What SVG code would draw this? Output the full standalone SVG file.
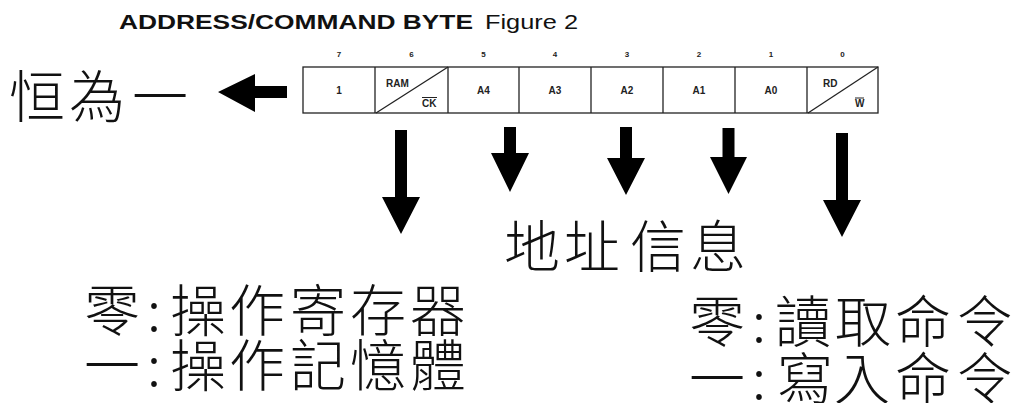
<svg xmlns="http://www.w3.org/2000/svg" width="1019" height="403" viewBox="0 0 1019 403">
<style>
.ttl{font-family:"Liberation Sans",Arial,sans-serif;font-size:21px;fill:#111}
.bit{font-family:"Liberation Sans",Arial,sans-serif;font-size:8px;font-weight:bold;fill:#222;text-anchor:middle}
.cell{font-family:"Liberation Sans",Arial,sans-serif;font-size:10px;font-weight:bold;fill:#222}
.mid{text-anchor:middle}
.box{fill:none;stroke:#222;stroke-width:1.3}
.hw{font-family:"Noto Sans CJK TC","Noto Sans CJK SC",sans-serif;font-size:56px;font-weight:300;fill:#111}
.arrow{fill:#000}
</style>
<rect width="1019" height="403" fill="#fff"/>
<g id="title">
<text class="ttl" x="119" y="29" font-weight="bold" textLength="354" lengthAdjust="spacingAndGlyphs">ADDRESS/COMMAND BYTE</text>
<text class="ttl" x="485" y="29" textLength="93" lengthAdjust="spacingAndGlyphs">Figure 2</text>
</g>
<g id="bit-numbers">
<text class="bit" x="339" y="57">7</text>
<text class="bit" x="411.5" y="57">6</text>
<text class="bit" x="483.5" y="57">5</text>
<text class="bit" x="555" y="57">4</text>
<text class="bit" x="627" y="57">3</text>
<text class="bit" x="699" y="57">2</text>
<text class="bit" x="771" y="57">1</text>
<text class="bit" x="842.5" y="57">0</text>
</g>
<g id="byte-table">
<rect class="box" x="303" y="67" width="575" height="46"/>
<g id="cell-7"><text class="cell mid" x="339" y="94">1</text></g>
<g id="cell-6"><line class="box" x1="375" y1="67" x2="375" y2="113"/><line class="box" x1="376" y1="113" x2="448" y2="67"/>
<text class="cell" x="386" y="87">RAM</text><text class="cell" x="422" y="107">CK</text><line x1="422" y1="97.5" x2="437" y2="97.5" stroke="#222" stroke-width="1"/></g>
<g id="cell-5"><line class="box" x1="448" y1="67" x2="448" y2="113"/><text class="cell mid" x="483.5" y="94">A4</text></g>
<g id="cell-4"><line class="box" x1="519" y1="67" x2="519" y2="113"/><text class="cell mid" x="555" y="94">A3</text></g>
<g id="cell-3"><line class="box" x1="591" y1="67" x2="591" y2="113"/><text class="cell mid" x="627" y="94">A2</text></g>
<g id="cell-2"><line class="box" x1="663" y1="67" x2="663" y2="113"/><text class="cell mid" x="699" y="94">A1</text></g>
<g id="cell-1"><line class="box" x1="735" y1="67" x2="735" y2="113"/><text class="cell mid" x="771" y="94">A0</text></g>
<g id="cell-0"><line class="box" x1="807" y1="67" x2="807" y2="113"/><line class="box" x1="808" y1="113" x2="878" y2="67"/>
<text class="cell" x="823" y="87">RD</text><text class="cell" x="855" y="107">W</text><line x1="855" y1="98" x2="864" y2="98" stroke="#222" stroke-width="1"/></g>
</g>
<g id="connectors">
<polygon class="arrow" points="218,92 255,74 255,86 287,86 287,98 255,98 255,112"/>
<polygon class="arrow" points="395,130 407,130 407,197 420,197 401,234 382,197 395,197"/>
<polygon class="arrow" points="504,127 516,127 516,153 529,153 510,192 491,153 504,153"/>
<polygon class="arrow" points="620,127 632,127 632,158 645,158 626,195 607,158 620,158"/>
<polygon class="arrow" points="722.5,128 734.5,128 734.5,157 747,157 728.5,194 710,157 722.5,157"/>
<polygon class="arrow" points="836,133 848,133 848,200 861,200 842,237 823,200 836,200"/>
</g>
<g id="label-always-one"><text class="hw" x="9 69 132" y="117">恒為一</text></g>
<g id="label-address"><text class="hw" x="504 564 630 690" y="267">地址信息</text></g>
<g id="label-ram">
<text class="hw" x="84 147 170 229 290 350 410" y="331">零:操作寄存器</text>
<text class="hw" x="84 147 170 229 290 350 410" y="386">一:操作記憶體</text>
</g>
<g id="label-rw">
<text class="hw" x="689 752 775 835 895 957" y="342">零:讀取命令</text>
<text class="hw" x="689 752 777 834 895 957" y="399">一:寫入命令</text>
</g>
</svg>
